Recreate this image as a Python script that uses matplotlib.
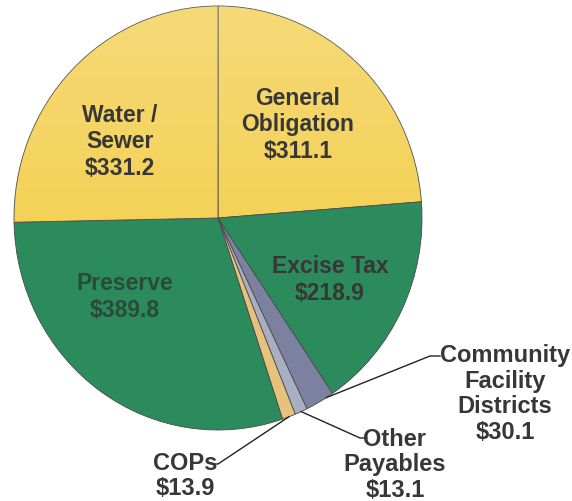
import numpy as np
import matplotlib
matplotlib.use("Agg")
import matplotlib.pyplot as plt
from matplotlib.patches import Ellipse

# ---- data ----
categories = ["General\nObligation", "Excise Tax", "Community\nFacility\nDistricts",
              "Other\nPayables", "COPs", "Preserve", "Water /\nSewer"]
values = [311.1, 218.9, 30.1, 13.1, 13.9, 389.8, 331.2]
value_labels = ["$311.1", "$218.9", "$30.1", "$13.1", "$13.9", "$389.8", "$331.2"]
colors = ["#f4d157", "#2c8b5c", "#7c819f", "#a9afc2", "#e7c27c", "#2c8b5c", "#f4d157"]

W, H = 572, 501
fig = plt.figure(figsize=(W / 100, H / 100), dpi=100)
fig.patch.set_facecolor("white")

# pie bounds in pixels (slightly taller than wide, like the source)
cx, cy = 218, 218
rx, ry = 204, 212
ax = fig.add_axes([(cx - rx) / W, 1 - (cy + ry) / H, 2 * rx / W, 2 * ry / H])

START = 90
wedges, _ = ax.pie(values, colors=colors, startangle=START, counterclock=False,
                   radius=1.0, wedgeprops=dict(edgecolor="#4a4a4a", linewidth=0.6))
ax.set_aspect("auto")
ax.set_xlim(-1, 1)
ax.set_ylim(-1, 1)
ax.axis("off")

# light top-to-bottom shading overlay on the pie
grad = np.linspace(0.0, 1.0, 256).reshape(-1, 1)
im = ax.imshow(grad, extent=[-1, 1, -1, 1], cmap=matplotlib.colors.LinearSegmentedColormap.from_list(
    "g", [(1, 1, 1, 0.0), (1, 1, 1, 0.0), (1, 1, 1, 0.2)]), origin="lower",
    aspect="auto", zorder=3)
clip = Ellipse((0, 0), 2, 2, transform=ax.transData)
im.set_clip_path(clip)

def to_data(px, py):
    return (px - cx) / rx, (cy - py) / ry

def fig_frac(px, py):
    return px / W, 1 - py / H

txt = "#373737"
font = dict(family=["Liberation Sans", "DejaVu Sans"], fontweight="bold")

# inside labels
inside = {0: (298, 125), 1: (330, 280), 5: (125, 297), 6: (120, 142)}
for i, (px, py) in inside.items():
    c = "#2a4a3c" if i == 5 else txt
    fig.text(*fig_frac(px, py), categories[i] + "\n" + value_labels[i],
             ha="center", va="center", fontsize=16.5, linespacing=1.2,
             color=c, **font)

# cumulative angles for leader anchor points
total = sum(values)
cum = np.cumsum([0] + values)
def edge_point(i, frac):
    a = np.deg2rad(START - 360 * (cum[i] + frac * values[i]) / total)
    return np.cos(a), np.sin(a)

# outside labels: (index, text pos px, knee pos px, line end px, frac)
outside = [
    (2, (505, 394), (440, 356), (430, 356), 0.25),
    (3, (395, 465), (367, 438), (360, 438), 0.5),
    (4, (185, 476), (212, 464), (218, 464), 0.5),
]
for i, tpos, p1, p2, frac in outside:
    fig.text(*fig_frac(*tpos), categories[i] + "\n" + value_labels[i],
             ha="center", va="center", fontsize=17, linespacing=1.13,
             color=txt, **font)
    ex, ey = edge_point(i, frac)
    k1 = to_data(*p1)
    k2 = to_data(*p2)
    ax.plot([k1[0], k2[0], ex], [k1[1], k2[1], ey], color="#222222",
            linewidth=1.0, clip_on=False, zorder=5)

fig.savefig("out.png", dpi=100, facecolor="white")
